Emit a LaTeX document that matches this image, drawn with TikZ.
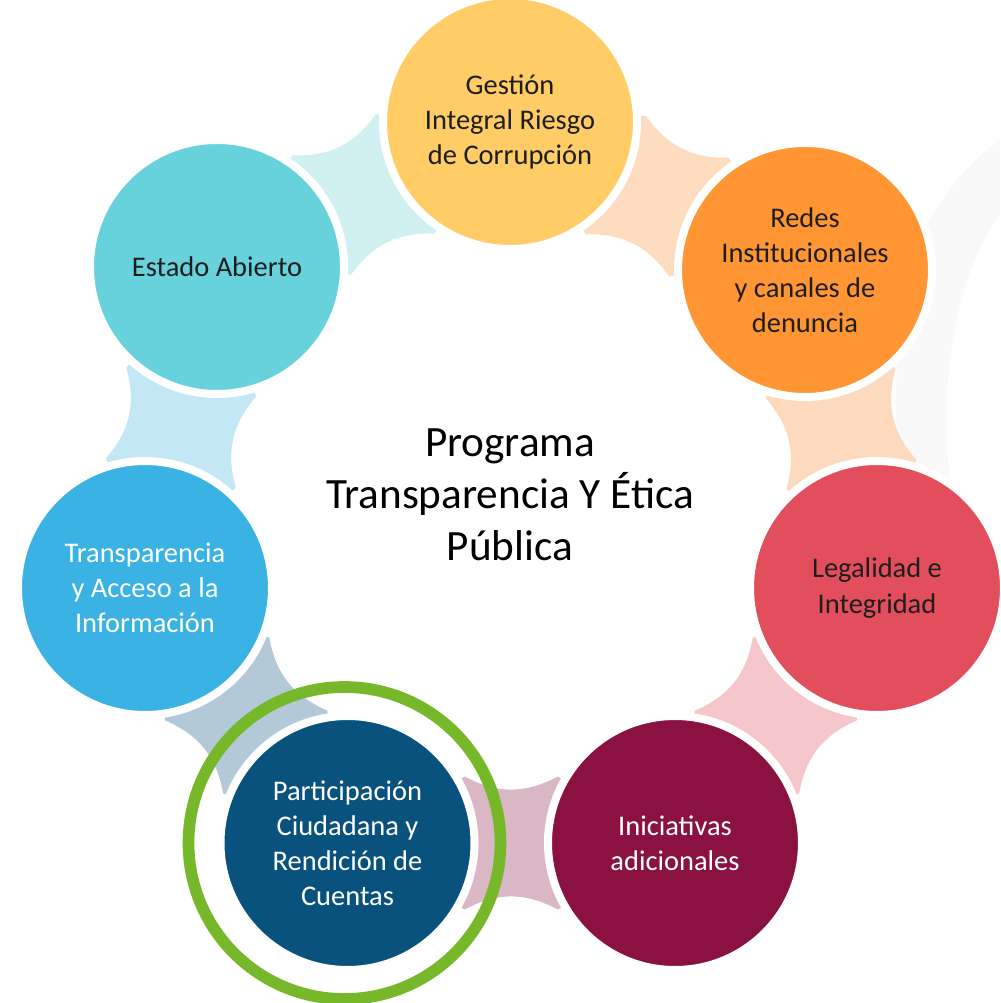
\documentclass[tikz,border=0pt]{standalone}
\usepackage{fontspec}
\setmainfont{Carlito}
\usetikzlibrary{calc,backgrounds}

\definecolor{yellowG}{HTML}{FFCC66}
\definecolor{orangeR}{HTML}{FF9533}
\definecolor{redL}{HTML}{E24E5B}
\definecolor{maroonI}{HTML}{8B1240}
\definecolor{blueP}{HTML}{0A527E}
\definecolor{blueT}{HTML}{3AB3E4}
\definecolor{tealE}{HTML}{68D2DC}
\definecolor{ringgreen}{HTML}{77B82A}
\definecolor{peachA}{HTML}{FDDCC0}
\definecolor{peachB}{HTML}{FDD9BE}
\definecolor{pinkL}{HTML}{F5C7CB}
\definecolor{mauveI}{HTML}{D9B7C5}
\definecolor{greyP}{HTML}{B3C9D8}
\definecolor{lightT}{HTML}{C3E7F4}
\definecolor{lightE}{HTML}{D0F0F2}
\definecolor{faint}{HTML}{F9F9F9}
\definecolor{darktext}{HTML}{1E1E1E}

\begin{document}
\begin{tikzpicture}%
        [item/.style={circle,inner sep=0pt,minimum size=5.08cm,draw=white,line width=0.16cm,
                      align=center,font=\fontsize{16.2}{20}\selectfont,text=darktext},
        link/.pic={\fill (-0.93,1.33) .. controls (-0.28,0.98) and (0.28,0.98) .. (0.93,1.33)
                   -- (3.27,0) -- (0.93,-1.33) .. controls (0.28,-0.98) and (-0.28,-0.98) .. (-0.93,-1.33)
                   -- (-3.27,0) -- cycle;},
        ring/.style={draw=ringgreen,line width=0.234cm},
        title/.style={align=center,font=\fontsize{24.6}{29.6}\selectfont,text=black}]

    \useasboundingbox (-10.24,-10.10) rectangle (9.76,9.96);

    %% Drawing the circles
    \node[item,fill=yellowG] (gestion) at (-0.04,7.52) {Gestión\\Integral Riesgo\\de Corrupción};
    \node[item,fill=orangeR] (redes) at (5.86,4.56) {Redes\\Institucionales\\y canales de\\denuncia};
    \node[item,fill=redL] (legalidad) at (7.30,-1.80) {Legalidad e\\Integridad};
    \node[item,fill=maroonI,text=white] (iniciativas) at (3.26,-6.90) {Iniciativas\\adicionales};
    \node[item,fill=blueP,text=white] (participacion) at (-3.29,-6.90) {Participación\\Ciudadana y\\Rendición de\\Cuentas};
    \node[item,fill=blueT,text=white] (transparencia) at (-7.34,-1.80) {Transparencia\\y Acceso a la\\Información};
    \node[item,fill=tealE] (estado) at (-5.90,4.62) {Estado Abierto};

    %% Centre text
    \node[title] (programa) at (-0.04,0.06) {Programa\\Transparencia Y Ética\\Pública};

    %% Highlight ring
    \draw[ring] ($(participacion)+(-0.06,0)$) circle (3.12);

    %%
    %% Drawing the links
    %%
    \begin{scope}[on background layer]
    \fill[faint] (9.76,7.16) .. controls (8.8,6.5) and (7.9,5.2) .. (7.7,3.5) -- (7.66,0.56)
        -- (8.76,0.36) .. controls (8.5,2.2) and (8.9,4.6) .. (9.76,5.66) -- cycle;
    \pic[fill=peachA,rotate=-26.8] at ($(gestion)!0.5!(redes)$) {link};
    \pic[fill=peachB,rotate=-77.2] at ($(redes)!0.5!(legalidad)$) {link};
    \pic[fill=pinkL,rotate=-128.4] at ($(legalidad)!0.5!(iniciativas)$) {link};
    \pic[fill=mauveI,rotate=-180] at ($(iniciativas)!0.5!(participacion)$) {link};
    \pic[fill=greyP,rotate=128.5] at ($(participacion)!0.5!(transparencia)$) {link};
    \pic[fill=lightT,rotate=77.4] at ($(transparencia)!0.5!(estado)$) {link};
    \pic[fill=lightE,rotate=26.2] at ($(estado)!0.5!(gestion)$) {link};
    \end{scope}
    %%
    %%
\end{tikzpicture}
\end{document}
